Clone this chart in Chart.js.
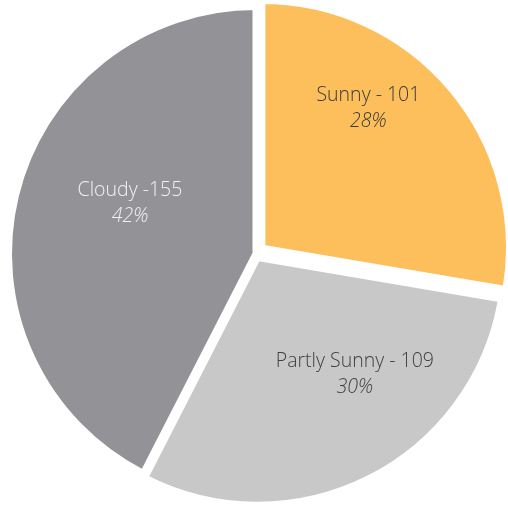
<!DOCTYPE html>
<html>
<head>
<meta charset="utf-8">
<script src="https://cdn.jsdelivr.net/npm/chart.js@4/dist/chart.umd.min.js"></script>
<style>
  html, body { margin: 0; padding: 0; background: #ffffff; }
  #wrap { width: 508px; height: 509px; position: relative; }
</style>
</head>
<body>
<div id="wrap"><canvas id="chart"></canvas></div>
<script>
// Days per sky condition over the year
const categories = ['Sunny', 'Partly Sunny', 'Cloudy'];
const dayCounts = [101, 109, 155];
const labelSeparators = [' - ', ' - ', ' -'];

const sliceColors = ['#FCBF5B', '#C8C8C8', '#939297'];
const textColors = ['#3a3a3a', '#3f3f3f', '#f2f2f2'];
const sliceOffsets = [36, 20, 0];
// label anchor per slice: [angle in degrees (canvas convention), distance from slice centre]
const labelSpots = [[-52.7, 175], [50.3, 152], [201.6, 135]];

const total = dayCounts.reduce((a, b) => a + b, 0);

const sliceLabels = {
  id: 'sliceLabels',
  afterDatasetsDraw(chart) {
    const ctx = chart.ctx;
    const arcs = chart.getDatasetMeta(0).data;
    ctx.save();
    ctx.textAlign = 'center';
    ctx.textBaseline = 'middle';
    arcs.forEach((arc, i) => {
      const mid = (arc.startAngle + arc.endAngle) / 2;
      const shift = sliceOffsets[i] / 4;
      const cx = arc.x + Math.cos(mid) * shift;
      const cy = arc.y + Math.sin(mid) * shift;
      const a = labelSpots[i][0] * Math.PI / 180;
      const x = cx + Math.cos(a) * labelSpots[i][1];
      const y = cy + Math.sin(a) * labelSpots[i][1];
      const pct = Math.round(dayCounts[i] / total * 100) + '%';
      ctx.fillStyle = textColors[i];
      ctx.font = '300 19.5px "Open Sans", sans-serif';
      ctx.fillText(categories[i] + labelSeparators[i] + dayCounts[i], x, y - 13);
      ctx.font = 'italic 300 19.5px "Open Sans", sans-serif';
      ctx.fillText(pct, x, y + 13);
    });
    ctx.restore();
  }
};

new Chart(document.getElementById('chart'), {
  type: 'pie',
  data: {
    labels: categories,
    datasets: [{
      data: dayCounts,
      backgroundColor: sliceColors,
      borderColor: '#ffffff',
      borderWidth: 6,
      offset: sliceOffsets,
      hoverOffset: 0
    }]
  },
  options: {
    responsive: true,
    maintainAspectRatio: false,
    animation: false,
    radius: 246.5,
    layout: { padding: { left: 3, right: 0, top: 0, bottom: 2 } },
    plugins: {
      legend: { display: false },
      tooltip: { enabled: false }
    }
  },
  plugins: [sliceLabels]
});
</script>
</body>
</html>
